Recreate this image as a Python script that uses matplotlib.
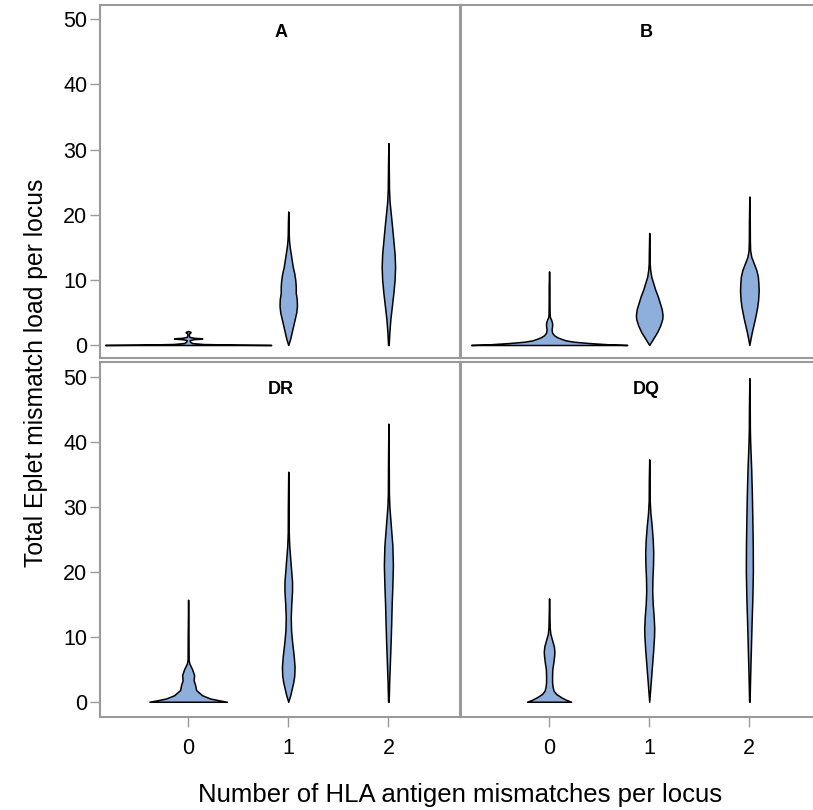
import matplotlib.pyplot as plt

# violin outlines: heights (eplet load) and half widths
loci = ["A", "B", "DR", "DQ"]
mismatches = [0, 1, 2]
y_ticks = [0, 10, 20, 30, 40, 50]

A_heights = [
    [0, 0.05, 0.15, 0.3, 0.5, 0.75, 0.9, 0.97, 1.03, 1.1, 1.25, 1.5, 1.8, 1.95, 2.05, 2.15],
    [0, 1, 2, 3, 4, 5, 6, 7, 8, 9, 10, 11, 12, 13, 14, 15, 16, 17, 18, 19, 20.5],
    [0, 2, 4, 6, 8, 10, 12, 14, 16, 18, 20, 22, 24, 27, 31],
]
A_widths = [
    [0.83, 0.5, 0.15, 0.04, 0.02, 0.015, 0.06, 0.14, 0.14, 0.06, 0.012, 0.008, 0.01, 0.025, 0.02, 0],
    [0, 0.02, 0.035, 0.05, 0.065, 0.08, 0.087, 0.085, 0.075, 0.075, 0.07, 0.06, 0.045, 0.035,
     0.025, 0.015, 0.008, 0.005, 0.004, 0.003, 0],
    [0.003, 0.01, 0.02, 0.035, 0.05, 0.062, 0.067, 0.062, 0.05, 0.038, 0.025, 0.012, 0.006, 0.004, 0],
]

B_heights = [
    [0, 0.1, 0.3, 0.5, 0.7, 0.9, 1.2, 1.5, 1.9, 2.4, 2.9, 3.4, 3.9, 4.3, 5, 7, 9, 11.3],
    [0, 1, 2, 3, 4, 4.6, 5.5, 6.5, 7.5, 8.5, 9.5, 10.5, 11.5, 12.5, 14, 17.2],
    [0, 1, 2, 3, 4, 5, 6, 7, 8.4, 9.5, 10.5, 11.5, 12.5, 13.5, 14.5, 16, 19, 22.8],
]
B_widths = [
    [0.78, 0.6, 0.4, 0.25, 0.17, 0.13, 0.08, 0.05, 0.03, 0.025, 0.03, 0.03, 0.02, 0.008, 0.005, 0.004, 0.004, 0],
    [0, 0.04, 0.08, 0.11, 0.13, 0.133, 0.125, 0.105, 0.085, 0.06, 0.04, 0.02, 0.01, 0.005, 0.004, 0],
    [0, 0.012, 0.025, 0.04, 0.055, 0.068, 0.08, 0.088, 0.093, 0.09, 0.085, 0.07, 0.045, 0.02, 0.008,
     0.005, 0.004, 0],
]

DR_heights = [
    [0, 0.25, 0.5, 1.0, 1.8, 2.6, 3.3, 4.1, 5.0, 5.9, 6.5, 10, 15.7],
    [0, 1, 2, 3, 4, 5.4, 7, 9, 11, 13, 15, 17, 18.5, 20, 22, 24, 26, 30, 35.4],
    [0, 3, 6, 9, 12, 15, 18, 21, 24, 27, 30, 32, 36, 42.8],
]
DR_widths = [
    [0.387, 0.3, 0.22, 0.14, 0.08, 0.07, 0.055, 0.06, 0.04, 0.012, 0.005, 0.004, 0],
    [0, 0.02, 0.035, 0.05, 0.06, 0.063, 0.055, 0.04, 0.028, 0.025, 0.03, 0.038, 0.038, 0.03, 0.02,
     0.01, 0.005, 0.004, 0],
    [0.003, 0.008, 0.015, 0.022, 0.028, 0.033, 0.04, 0.045, 0.04, 0.025, 0.01, 0.005, 0.004, 0],
]

DQ_heights = [
    [0, 0.3, 0.7, 1.2, 1.7, 2.3, 3, 4, 5, 6, 7, 7.7, 8.5, 9.5, 10.5, 11.5, 13, 15.9],
    [0, 2, 4, 6, 8, 10, 11.3, 13, 15, 17, 19, 21, 23, 25, 27, 29, 31, 34, 37.3],
    [0, 4, 8, 12, 16, 20, 24, 28, 32, 36, 40, 42, 45, 49.8],
]
DQ_widths = [
    [0.22, 0.17, 0.12, 0.07, 0.045, 0.035, 0.03, 0.03, 0.032, 0.042, 0.05, 0.053, 0.048, 0.03, 0.012,
     0.006, 0.004, 0],
    [0, 0.01, 0.02, 0.03, 0.04, 0.048, 0.05, 0.045, 0.035, 0.03, 0.032, 0.038, 0.04, 0.035, 0.025,
     0.012, 0.005, 0.004, 0],
    [0.002, 0.008, 0.015, 0.022, 0.03, 0.035, 0.034, 0.03, 0.025, 0.018, 0.008, 0.005, 0.004, 0],
]

heights = [A_heights, B_heights, DR_heights, DQ_heights]
widths = [A_widths, B_widths, DR_widths, DQ_widths]

font = ["Liberation Sans", "DejaVu Sans"]
plt.rcParams["font.family"] = font
fill = "#8EAFDC"
frame = "#9a9a9a"

fig = plt.figure(figsize=(8.13, 8.10), dpi=100)
w = 0.4434
boxes = [
    [0.123, 0.558, w, 0.4358],
    [0.567, 0.558, w, 0.4358],
    [0.123, 0.1152, w, 0.438],
    [0.567, 0.1152, w, 0.438],
]

for i in range(4):
    ax = fig.add_axes(boxes[i])
    for j in range(3):
        c = mismatches[j]
        lo = [c - v for v in widths[i][j]]
        hi = [c + v for v in widths[i][j]]
        ax.fill_betweenx(heights[i][j], lo, hi, facecolor=fill, edgecolor="black", linewidth=1.1)
    ax.set_xlim(-0.88, 2.72)
    if i < 2:
        ax.set_ylim(-2.0, 52.2)
    else:
        ax.set_ylim(-2.3, 52.3)
    ax.text(0.93 if i % 2 == 0 else 0.97, 48.0, loci[i], ha="center", va="center",
            fontsize=13, fontweight="bold")
    for s in ax.spines.values():
        s.set_color(frame)
        s.set_linewidth(1.5)
    ax.tick_params(colors=frame, length=7, width=1, labelcolor="black", labelsize=15.5)
    if i % 2 == 0:
        ax.set_yticks(y_ticks)
        ax.tick_params(axis="y", pad=2)
    else:
        ax.set_yticks([])
    if i >= 2:
        ax.set_xticks(mismatches)
        ax.tick_params(axis="x", pad=8)
    else:
        ax.set_xticks([])

fig.text(0.566, 0.019, "Number of HLA antigen mismatches per locus", ha="center", va="center",
         fontsize=18.5)
fig.text(0.044, 0.54, "Total Eplet mismatch load per locus", ha="center", va="center",
         rotation=90, fontsize=17.8)

fig.savefig("out.png", dpi=100)
